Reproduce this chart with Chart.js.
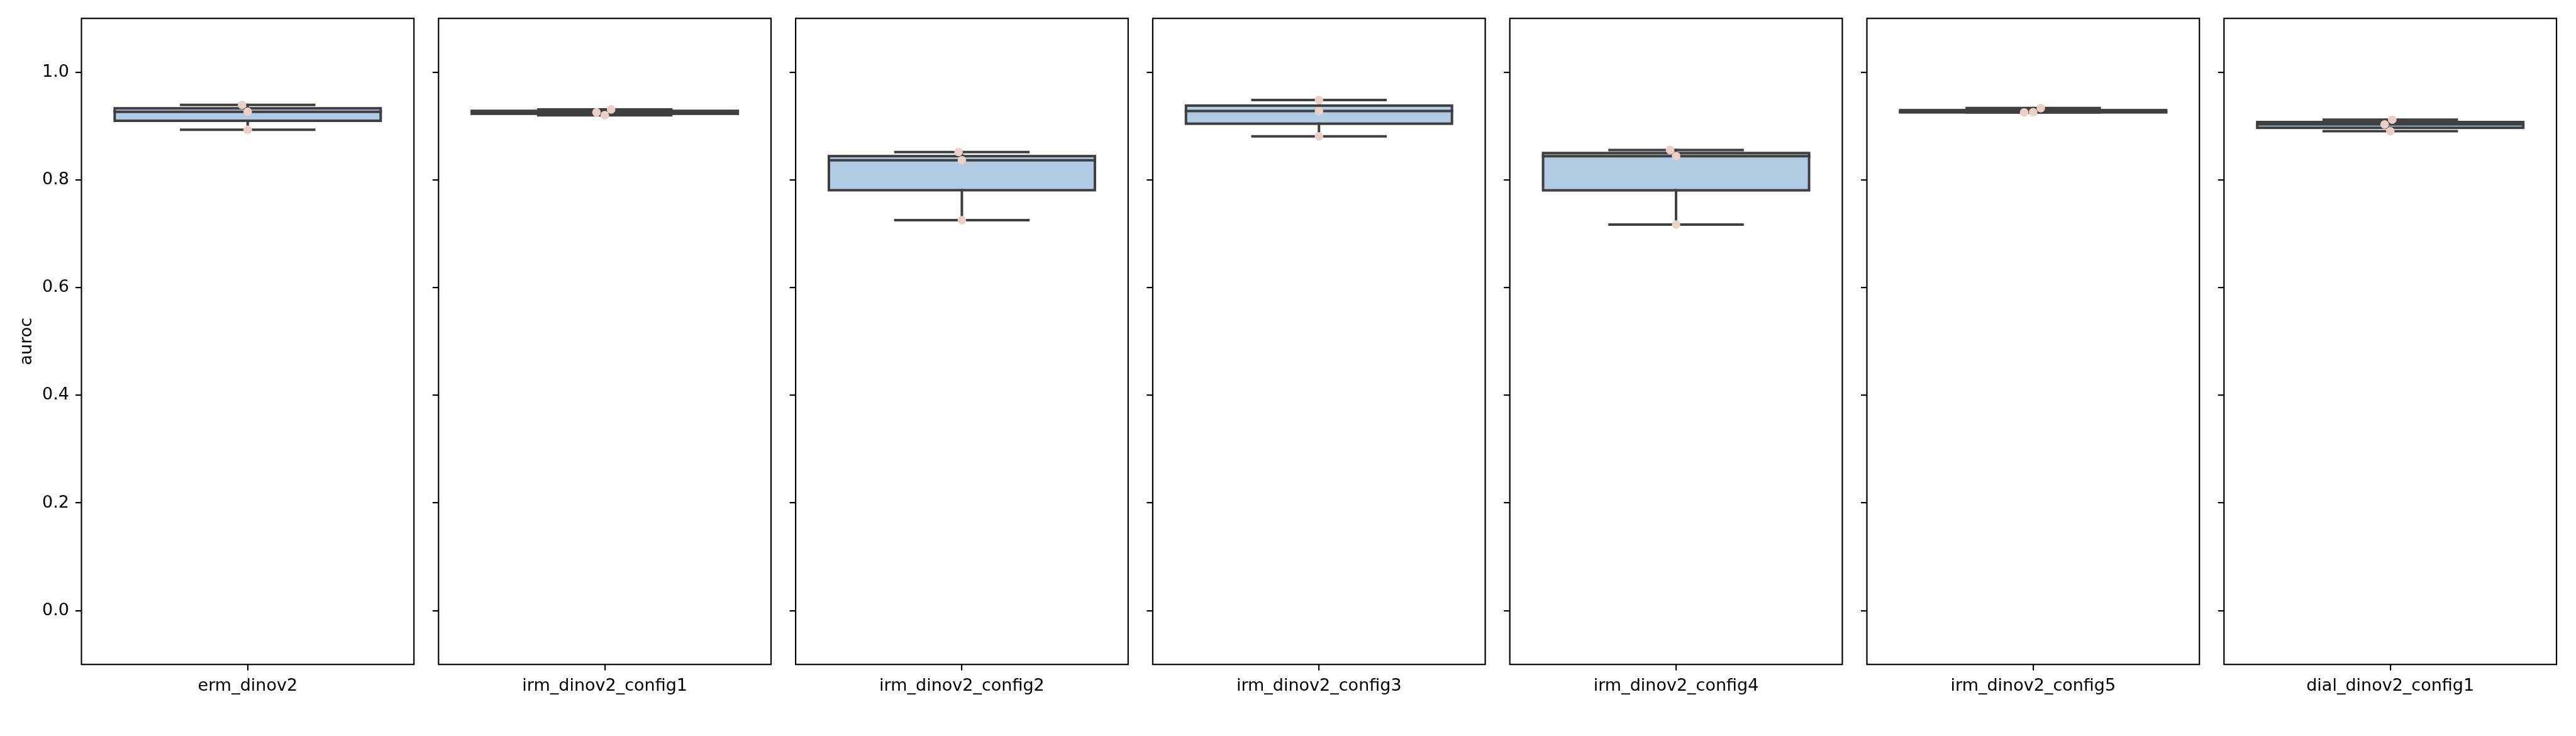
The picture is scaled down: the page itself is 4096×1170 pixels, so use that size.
<!DOCTYPE html>
<html>
<head>
<meta charset="utf-8">
<script src="https://cdn.jsdelivr.net/npm/chart.js@4.4.1/dist/chart.umd.min.js"></script>
<style>
  html, body { margin: 0; padding: 0; background: #fff; }
  #figure { position: relative; width: 4096px; height: 1170px; overflow: hidden; background: #fff; }
  #figure canvas { position: absolute; top: 0; }
</style>
</head>
<body>
<div id="figure"></div>
<script>
// one subplot per model group
const groups = ['erm_dinov2', 'irm_dinov2_config1', 'irm_dinov2_config2', 'irm_dinov2_config3',
                'irm_dinov2_config4', 'irm_dinov2_config5', 'dial_dinov2_config1'];

// auroc of the three runs in each group
const groupScores = [
    [0.9394, 0.9266, 0.8931],
    [0.9310, 0.9255, 0.9202],
    [0.8518, 0.8366, 0.7252],
    [0.9483, 0.9278, 0.8810],
    [0.8556, 0.8442, 0.7171],
    [0.9254, 0.9258, 0.9334],
    [0.9119, 0.9030, 0.8906]
];

// strip-plot jitter of each run (category units)
const groupJitter = [
    [-0.017, 0, 0],
    [0.019, -0.025, 0],
    [-0.010, 0, 0],
    [0, 0, 0],
    [-0.018, 0, 0],
    [-0.027, 0, 0.023],
    [0.006, -0.017, 0]
];

const yTicks = [0.0, 0.2, 0.4, 0.6, 0.8, 1.0];
const yMin = -0.1;
const yMax = 1.1;

// --- layout in the 4096x1170 window ---
const axLeft0 = 129.5, axPitch = 567.8, axWidth = 528.7;
const axTop = 29.25, axBottom = 1056.25;
const figH = 1170;

const fontFamily = "'DejaVu Sans', sans-serif";
const fontSize = 27;
const lineCol = '#3f3f3f';
const boxFill = '#b1cbe4';
const dotCol = '#ebd0c8';
const boxLw = 4.0;
const spineLw = 2.17;
const tickLen = 9.5;

function quantile(sorted, q) {
    const pos = (sorted.length - 1) * q;
    const lo = Math.floor(pos), hi = Math.ceil(pos);
    return sorted[lo] + (sorted[hi] - sorted[lo]) * (pos - lo);
}

// box stats like matplotlib (linear quantiles, 1.5 IQR whiskers)
function boxStats(values) {
    const s = [...values].sort((a, b) => a - b);
    const q1 = quantile(s, 0.25), med = quantile(s, 0.5), q3 = quantile(s, 0.75);
    const iqr = q3 - q1;
    const lo = s.find(v => v >= q1 - 1.5 * iqr);
    const hi = [...s].reverse().find(v => v <= q3 + 1.5 * iqr);
    return { q1, med, q3, lo, hi };
}

const boxPlugin = {
    id: 'boxPlugin',
    beforeDatasetsDraw(chart, args, opts) {
        const { ctx, chartArea: a, scales: { x, y } } = chart;
        const st = opts.stats;
        const px = v => x.getPixelForValue(v);
        const py = v => y.getPixelForValue(v);
        ctx.save();

        // box
        const bx0 = px(-0.4), bx1 = px(0.4);
        const by0 = py(st.q3), by1 = py(st.q1);
        ctx.fillStyle = boxFill;
        ctx.fillRect(bx0, by0, bx1 - bx0, by1 - by0);
        ctx.strokeStyle = lineCol;
        ctx.lineWidth = boxLw;
        ctx.lineJoin = 'miter';
        ctx.strokeRect(bx0, by0, bx1 - bx0, by1 - by0);

        // whiskers, caps, median
        ctx.lineCap = 'square';
        const seg = (x0, y0, x1, y1) => {
            ctx.beginPath();
            ctx.moveTo(x0, y0);
            ctx.lineTo(x1, y1);
            ctx.stroke();
        };
        seg(px(0), py(st.q1), px(0), py(st.lo));
        seg(px(0), py(st.q3), px(0), py(st.hi));
        seg(px(-0.2), py(st.lo), px(0.2), py(st.lo));
        seg(px(-0.2), py(st.hi), px(0.2), py(st.hi));
        seg(bx0, py(st.med), bx1, py(st.med));

        // axes frame
        ctx.lineCap = 'butt';
        ctx.strokeStyle = '#000';
        ctx.lineWidth = spineLw;
        ctx.strokeRect(a.left, a.top, a.right - a.left, a.bottom - a.top);
        ctx.restore();
    }
};

const fig = document.getElementById('figure');

groups.forEach((name, i) => {
    const axLeft = axLeft0 + i * axPitch;
    const padL = i === 0 ? axLeft : 30;
    const cLeft = Math.floor(axLeft - padL);
    const yW = axLeft - cLeft;
    const cW = Math.ceil(yW + axWidth + 12);

    const canvas = document.createElement('canvas');
    canvas.width = cW;
    canvas.height = figH;
    canvas.style.left = cLeft + 'px';
    canvas.style.width = cW + 'px';
    canvas.style.height = figH + 'px';
    fig.appendChild(canvas);

    const points = groupScores[i].map((v, k) => ({ x: groupJitter[i][k], y: v }));
    const tickFont = { family: fontFamily, size: fontSize };

    new Chart(canvas.getContext('2d'), {
        type: 'scatter',
        data: {
            datasets: [{
                data: points,
                backgroundColor: dotCol,
                borderWidth: 0,
                pointRadius: 6.8,
                pointHoverRadius: 6.8
            }]
        },
        options: {
            responsive: false,
            animation: false,
            devicePixelRatio: 1,
            events: [],
            layout: { padding: { left: 0, top: axTop, right: cW - yW - axWidth, bottom: 0 } },
            plugins: {
                legend: { display: false },
                tooltip: { enabled: false },
                boxPlugin: { stats: boxStats(groupScores[i]) }
            },
            scales: {
                x: {
                    type: 'linear',
                    min: -0.5,
                    max: 0.5,
                    afterBuildTicks: s => { s.ticks = [{ value: 0 }]; },
                    afterFit: s => { s.height = figH - axBottom; },
                    grid: { drawOnChartArea: false, drawTicks: true, tickLength: tickLen,
                            tickWidth: spineLw, tickColor: '#000', lineWidth: spineLw, color: '#000' },
                    border: { display: false },
                    ticks: { callback: () => name, color: '#000', padding: 9.5, font: tickFont,
                             maxRotation: 0, autoSkip: false }
                },
                y: {
                    type: 'linear',
                    min: yMin,
                    max: yMax,
                    afterBuildTicks: s => { s.ticks = yTicks.map(v => ({ value: v })); },
                    afterFit: s => { s.width = yW; },
                    grid: { drawOnChartArea: false, drawTicks: true, tickLength: tickLen,
                            tickWidth: spineLw, tickColor: '#000', lineWidth: spineLw, color: '#000' },
                    border: { display: false },
                    ticks: { display: i === 0, callback: v => v.toFixed(1), color: '#000',
                             padding: 10, font: tickFont, autoSkip: false },
                    title: {
                        display: i === 0,
                        text: 'auroc',
                        color: '#000',
                        font: tickFont,
                        padding: { top: 26.8, bottom: 0 }
                    }
                }
            }
        },
        plugins: [boxPlugin]
    });
});
</script>
</body>
</html>
